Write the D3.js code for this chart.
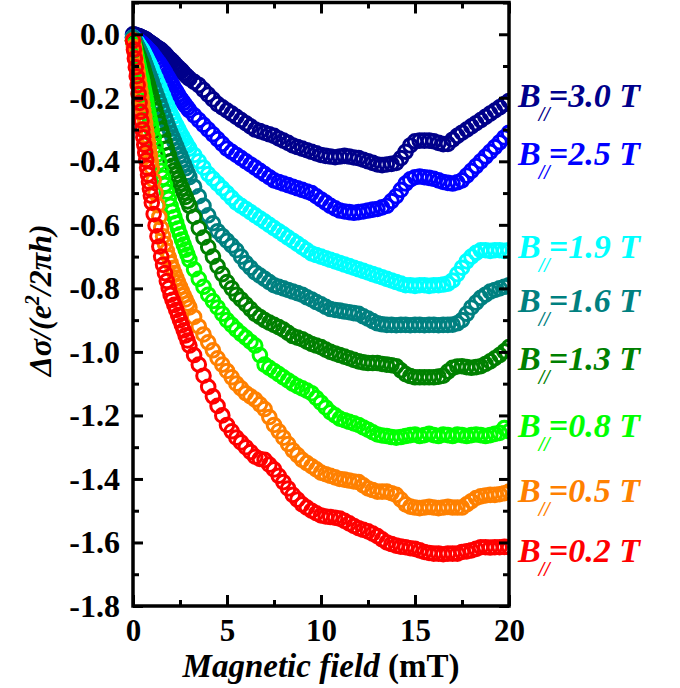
<!DOCTYPE html>
<html>
<head>
<meta charset="utf-8">
<script src="https://cdn.jsdelivr.net/npm/d3@7/dist/d3.min.js"></script>
<style>
  html, body { margin: 0; padding: 0; background: #fff; }
  svg { display: block; }
  text { font-family: "Times New Roman", "Liberation Serif", serif; font-weight: bold; }
</style>
</head>
<body>
<svg id="chart" width="680" height="688"></svg>
<script>
// Magnetic field sweep (mT): fine steps at low field, then 0.25 mT
const field = [
  0, 0.05, 0.1, 0.15, 0.2, 0.25, 0.3, 0.35, 0.4, 0.45, 0.5, 0.55, 0.6, 0.65, 0.7, 0.75, 0.8, 0.85, 0.9, 0.95, 1,
  1.1, 1.2, 1.3, 1.4, 1.5, 1.6, 1.7, 1.8, 1.9, 2, 2.1, 2.2, 2.3, 2.4, 2.5, 2.6, 2.7, 2.8, 2.9, 3,
  3.25, 3.5, 3.75, 4, 4.25, 4.5, 4.75, 5, 5.25, 5.5, 5.75, 6, 6.25, 6.5, 6.75, 7, 7.25, 7.5, 7.75,
  8, 8.25, 8.5, 8.75, 9, 9.25, 9.5, 9.75, 10, 10.25, 10.5, 10.75, 11, 11.25, 11.5, 11.75,
  12, 12.25, 12.5, 12.75, 13, 13.25, 13.5, 13.75, 14, 14.25, 14.5, 14.75, 15, 15.25, 15.5, 15.75,
  16, 16.25, 16.5, 16.75, 17, 17.25, 17.5, 17.75, 18, 18.25, 18.5, 18.75, 19, 19.25, 19.5, 19.75, 20
];

// Magnetoconductance, in units of e^2/(2 pi h), for each in-plane field
const dSigma30 = [
  0.000, -0.001, -0.002, -0.003, -0.005, -0.005, -0.006, -0.007, -0.008, -0.010, -0.011, -0.012, -0.014, -0.016, -0.017, -0.019, -0.022, -0.024, -0.026, -0.028, -0.030,
  -0.033, -0.038, -0.043, -0.046, -0.050, -0.056, -0.061, -0.068, -0.075, -0.080, -0.085, -0.092, -0.099, -0.104, -0.110, -0.115, -0.122, -0.129, -0.134, -0.140,
  -0.150, -0.160, -0.175, -0.190, -0.205, -0.220, -0.230, -0.240, -0.250, -0.260, -0.270, -0.280, -0.290, -0.300, -0.305, -0.310, -0.315, -0.320, -0.328,
  -0.335, -0.342, -0.350, -0.355, -0.360, -0.365, -0.370, -0.375, -0.380, -0.383, -0.385, -0.387, -0.385, -0.383, -0.385, -0.388,
  -0.390, -0.395, -0.400, -0.405, -0.410, -0.412, -0.410, -0.408, -0.405, -0.390, -0.370, -0.350, -0.337, -0.335, -0.335, -0.335,
  -0.337, -0.342, -0.346, -0.345, -0.332, -0.320, -0.310, -0.300, -0.290, -0.280, -0.270, -0.260, -0.250, -0.240, -0.230, -0.220, -0.210
];
const dSigma25 = [
  -0.010, -0.011, -0.013, -0.015, -0.017, -0.019, -0.021, -0.023, -0.026, -0.028, -0.030, -0.033, -0.036, -0.038, -0.041, -0.045, -0.048, -0.051, -0.054, -0.057, -0.060,
  -0.068, -0.076, -0.084, -0.092, -0.100, -0.110, -0.119, -0.130, -0.140, -0.150, -0.160, -0.171, -0.180, -0.190, -0.200, -0.208, -0.216, -0.225, -0.232, -0.240,
  -0.255, -0.270, -0.285, -0.300, -0.315, -0.330, -0.345, -0.360, -0.370, -0.380, -0.390, -0.400, -0.410, -0.420, -0.430, -0.440, -0.450, -0.460, -0.465,
  -0.470, -0.475, -0.480, -0.485, -0.490, -0.495, -0.500, -0.510, -0.520, -0.530, -0.540, -0.548, -0.555, -0.558, -0.560, -0.562,
  -0.560, -0.558, -0.555, -0.552, -0.550, -0.545, -0.540, -0.525, -0.510, -0.490, -0.470, -0.457, -0.450, -0.448, -0.450, -0.452,
  -0.455, -0.460, -0.465, -0.468, -0.470, -0.466, -0.460, -0.445, -0.430, -0.415, -0.400, -0.385, -0.370, -0.355, -0.340, -0.325, -0.310
];
const dSigma19 = [
  -0.010, -0.013, -0.017, -0.021, -0.025, -0.029, -0.033, -0.037, -0.042, -0.046, -0.050, -0.056, -0.061, -0.067, -0.073, -0.079, -0.085, -0.091, -0.097, -0.104, -0.110,
  -0.124, -0.138, -0.152, -0.166, -0.180, -0.194, -0.209, -0.222, -0.236, -0.250, -0.262, -0.275, -0.286, -0.298, -0.310, -0.320, -0.331, -0.340, -0.351, -0.360,
  -0.380, -0.400, -0.420, -0.440, -0.455, -0.470, -0.485, -0.500, -0.515, -0.530, -0.540, -0.550, -0.560, -0.570, -0.580, -0.590, -0.600, -0.610, -0.620,
  -0.630, -0.640, -0.650, -0.660, -0.670, -0.680, -0.690, -0.695, -0.700, -0.705, -0.710, -0.715, -0.720, -0.725, -0.730, -0.735,
  -0.740, -0.745, -0.750, -0.755, -0.760, -0.765, -0.770, -0.775, -0.780, -0.785, -0.790, -0.790, -0.792, -0.790, -0.790, -0.792,
  -0.790, -0.790, -0.788, -0.785, -0.775, -0.755, -0.735, -0.715, -0.700, -0.688, -0.680, -0.680, -0.682, -0.680, -0.680, -0.682, -0.680
];
const dSigma16 = [
  -0.010, -0.015, -0.021, -0.028, -0.034, -0.040, -0.046, -0.052, -0.058, -0.064, -0.070, -0.078, -0.086, -0.094, -0.102, -0.110, -0.118, -0.126, -0.134, -0.142, -0.150,
  -0.166, -0.182, -0.198, -0.214, -0.230, -0.246, -0.263, -0.278, -0.294, -0.310, -0.324, -0.338, -0.352, -0.366, -0.380, -0.394, -0.408, -0.422, -0.436, -0.450,
  -0.480, -0.510, -0.540, -0.570, -0.595, -0.620, -0.635, -0.650, -0.665, -0.680, -0.700, -0.720, -0.735, -0.750, -0.760, -0.770, -0.780, -0.790, -0.795,
  -0.800, -0.805, -0.810, -0.815, -0.820, -0.828, -0.835, -0.843, -0.850, -0.858, -0.865, -0.868, -0.870, -0.873, -0.875, -0.878,
  -0.880, -0.888, -0.895, -0.903, -0.910, -0.913, -0.915, -0.915, -0.916, -0.915, -0.915, -0.916, -0.915, -0.915, -0.916, -0.915,
  -0.915, -0.916, -0.915, -0.915, -0.914, -0.910, -0.900, -0.880, -0.860, -0.845, -0.830, -0.820, -0.810, -0.805, -0.800, -0.795, -0.790
];
const dSigma13 = [
  -0.020, -0.027, -0.035, -0.044, -0.052, -0.060, -0.068, -0.076, -0.084, -0.092, -0.100, -0.110, -0.120, -0.130, -0.140, -0.150, -0.160, -0.170, -0.180, -0.190, -0.200,
  -0.220, -0.240, -0.260, -0.280, -0.300, -0.320, -0.341, -0.360, -0.380, -0.400, -0.414, -0.428, -0.442, -0.456, -0.470, -0.484, -0.498, -0.512, -0.526, -0.540,
  -0.575, -0.610, -0.640, -0.670, -0.700, -0.730, -0.755, -0.780, -0.800, -0.820, -0.835, -0.850, -0.865, -0.880, -0.890, -0.900, -0.908, -0.915, -0.922,
  -0.930, -0.940, -0.950, -0.955, -0.960, -0.968, -0.975, -0.980, -0.985, -0.993, -1.000, -1.005, -1.010, -1.015, -1.020, -1.025,
  -1.030, -1.033, -1.035, -1.035, -1.035, -1.038, -1.040, -1.042, -1.045, -1.058, -1.070, -1.076, -1.080, -1.080, -1.080, -1.080,
  -1.080, -1.078, -1.075, -1.062, -1.050, -1.046, -1.045, -1.048, -1.050, -1.048, -1.045, -1.038, -1.030, -1.020, -1.010, -0.998, -0.985
];
const dSigma08 = [
  -0.020, -0.033, -0.046, -0.059, -0.072, -0.085, -0.098, -0.111, -0.124, -0.137, -0.150, -0.165, -0.180, -0.195, -0.210, -0.225, -0.240, -0.255, -0.270, -0.285, -0.300,
  -0.326, -0.352, -0.378, -0.404, -0.430, -0.452, -0.474, -0.496, -0.518, -0.540, -0.558, -0.576, -0.594, -0.612, -0.630, -0.646, -0.662, -0.678, -0.694, -0.710,
  -0.740, -0.770, -0.795, -0.820, -0.840, -0.860, -0.880, -0.900, -0.915, -0.930, -0.943, -0.955, -0.968, -0.980, -1.010, -1.040, -1.050, -1.060, -1.070,
  -1.080, -1.090, -1.100, -1.108, -1.115, -1.122, -1.130, -1.145, -1.160, -1.175, -1.190, -1.200, -1.210, -1.215, -1.220, -1.225,
  -1.230, -1.238, -1.245, -1.253, -1.260, -1.263, -1.265, -1.268, -1.270, -1.268, -1.265, -1.262, -1.260, -1.265, -1.262, -1.258,
  -1.262, -1.265, -1.260, -1.262, -1.265, -1.260, -1.262, -1.265, -1.262, -1.260, -1.262, -1.265, -1.262, -1.258, -1.255, -1.240, -1.250
];
const dSigma05 = [
  -0.020, -0.040, -0.060, -0.080, -0.100, -0.120, -0.140, -0.160, -0.180, -0.200, -0.220, -0.240, -0.260, -0.280, -0.300, -0.320, -0.340, -0.360, -0.380, -0.400, -0.420,
  -0.460, -0.500, -0.538, -0.575, -0.610, -0.636, -0.660, -0.682, -0.702, -0.720, -0.736, -0.752, -0.767, -0.781, -0.795, -0.809, -0.822, -0.835, -0.848, -0.860,
  -0.890, -0.920, -0.945, -0.970, -0.995, -1.020, -1.040, -1.060, -1.080, -1.100, -1.115, -1.130, -1.140, -1.150, -1.165, -1.180, -1.205, -1.230, -1.250,
  -1.270, -1.290, -1.310, -1.325, -1.340, -1.350, -1.360, -1.370, -1.380, -1.385, -1.390, -1.395, -1.400, -1.402, -1.405, -1.408,
  -1.410, -1.420, -1.430, -1.435, -1.440, -1.440, -1.440, -1.445, -1.450, -1.465, -1.480, -1.487, -1.490, -1.492, -1.490, -1.488,
  -1.490, -1.492, -1.490, -1.488, -1.490, -1.490, -1.490, -1.480, -1.470, -1.460, -1.455, -1.452, -1.450, -1.450, -1.448, -1.445, -1.440
];
const dSigma02 = [
  -0.020, -0.048, -0.076, -0.104, -0.132, -0.160, -0.188, -0.216, -0.244, -0.272, -0.300, -0.324, -0.348, -0.372, -0.396, -0.420, -0.442, -0.464, -0.486, -0.508, -0.530,
  -0.566, -0.602, -0.636, -0.668, -0.700, -0.726, -0.752, -0.777, -0.799, -0.820, -0.836, -0.852, -0.868, -0.884, -0.900, -0.916, -0.932, -0.948, -0.964, -0.980,
  -1.010, -1.040, -1.075, -1.110, -1.140, -1.170, -1.200, -1.230, -1.250, -1.270, -1.285, -1.300, -1.315, -1.330, -1.337, -1.340, -1.355, -1.370, -1.390,
  -1.410, -1.430, -1.450, -1.465, -1.480, -1.490, -1.500, -1.508, -1.515, -1.518, -1.520, -1.522, -1.525, -1.532, -1.540, -1.548,
  -1.555, -1.560, -1.565, -1.572, -1.580, -1.590, -1.600, -1.605, -1.610, -1.613, -1.615, -1.618, -1.620, -1.625, -1.630, -1.633,
  -1.635, -1.635, -1.637, -1.635, -1.635, -1.635, -1.630, -1.628, -1.625, -1.620, -1.615, -1.615, -1.616, -1.615, -1.615, -1.614, -1.615
];

// In-plane field labels and series order (top to bottom)
const inPlaneField = ["3.0", "2.5", "1.9", "1.6", "1.3", "0.8", "0.5", "0.2"];
const seriesValues = [dSigma30, dSigma25, dSigma19, dSigma16, dSigma13, dSigma08, dSigma05, dSigma02];

// Axis ticks
const fieldTicks = [0, 5, 10, 15, 20];
const fieldMinorTicks = [2.5, 7.5, 12.5, 17.5];
const sigmaTicks = [0.0, -0.2, -0.4, -0.6, -0.8, -1.0, -1.2, -1.4, -1.6, -1.8];
const sigmaMinorTicks = [0.1, -0.1, -0.3, -0.5, -0.7, -0.9, -1.1, -1.3, -1.5, -1.7];

// ---- layout and styling ----
const colors = ["#00008b", "#0000ff", "#00ffff", "#008080", "#008000", "#00ff00", "#ff8000", "#ff0000"];
const labelLevels = [-0.23, -0.412, -0.705, -0.875, -1.057, -1.268, -1.473, -1.661];
const serif = "'Times New Roman', 'Liberation Serif', serif";

const svg = d3.select("#chart");
const plotLeft = 133, plotRight = 509, plotTop = 2.5, plotBottom = 606;

const x = d3.scaleLinear().domain([0, 20]).range([plotLeft, plotRight]);
const y = d3.scaleLinear().domain([-1.8, 0.1]).range([plotBottom, plotTop]);

svg.append("defs").append("clipPath").attr("id", "plot-clip")
  .append("rect").attr("x", plotLeft - 10).attr("y", plotTop)
  .attr("width", plotRight - plotLeft + 10).attr("height", plotBottom - plotTop);

// data: open circles
const plot = svg.append("g").attr("clip-path", "url(#plot-clip)");
seriesValues.forEach((vals, k) => {
  plot.append("g")
    .selectAll("circle")
    .data(vals.map((v, i) => [field[i], v]))
    .join("circle")
    .attr("cx", d => x(d[0]))
    .attr("cy", d => y(d[1]))
    .attr("r", 6.8)
    .attr("fill", "none")
    .attr("stroke", colors[k])
    .attr("stroke-width", 3);
});

// axes: ticks point inward on all four sides
function styleAxis(g, size) {
  g.attr("font-family", serif);
  g.select(".domain").remove();
  g.selectAll(".tick line").attr("stroke", "#000").attr("stroke-width", 3);
  g.selectAll(".tick text")
    .attr("fill", "#000")
    .style("font-family", serif)
    .style("font-weight", "bold")
    .style("font-size", (size || 30) + "px");
}

svg.append("g").attr("transform", `translate(0,${plotBottom})`)
  .call(d3.axisBottom(x).tickValues(fieldTicks).tickFormat(d3.format("d"))
    .tickSizeInner(-11).tickSizeOuter(0).tickPadding(13))
  .call(styleAxis, 31);
svg.append("g").attr("transform", `translate(0,${plotBottom})`)
  .call(d3.axisBottom(x).tickValues(fieldMinorTicks).tickFormat("").tickSizeInner(-6).tickSizeOuter(0))
  .call(styleAxis);
svg.append("g").attr("transform", `translate(0,${plotTop})`)
  .call(d3.axisTop(x).tickValues(fieldTicks).tickFormat("").tickSizeInner(-11).tickSizeOuter(0))
  .call(styleAxis);
svg.append("g").attr("transform", `translate(0,${plotTop})`)
  .call(d3.axisTop(x).tickValues(fieldMinorTicks).tickFormat("").tickSizeInner(-6).tickSizeOuter(0))
  .call(styleAxis);

svg.append("g").attr("transform", `translate(${plotLeft},0)`)
  .call(d3.axisLeft(y).tickValues(sigmaTicks).tickFormat(d => d3.format(".1f")(d).replace("−", "-"))
    .tickSizeInner(-10).tickSizeOuter(0).tickPadding(13))
  .call(styleAxis, 32);
svg.append("g").attr("transform", `translate(${plotLeft},0)`)
  .call(d3.axisLeft(y).tickValues(sigmaMinorTicks).tickFormat("").tickSizeInner(-6).tickSizeOuter(0))
  .call(styleAxis);
svg.append("g").attr("transform", `translate(${plotRight},0)`)
  .call(d3.axisRight(y).tickValues(sigmaTicks).tickFormat("").tickSizeInner(-10).tickSizeOuter(0))
  .call(styleAxis);
svg.append("g").attr("transform", `translate(${plotRight},0)`)
  .call(d3.axisRight(y).tickValues(sigmaMinorTicks).tickFormat("").tickSizeInner(-6).tickSizeOuter(0))
  .call(styleAxis);

// frame
svg.append("rect")
  .attr("x", plotLeft).attr("y", plotTop)
  .attr("width", plotRight - plotLeft).attr("height", plotBottom - plotTop)
  .attr("fill", "none").attr("stroke", "#000").attr("stroke-width", 3.5);

// x-axis title
const xTitle = svg.append("text")
  .attr("x", (plotLeft + plotRight) / 2).attr("y", 677)
  .attr("text-anchor", "middle")
  .style("font-size", "33px");
xTitle.append("tspan").style("font-style", "italic").text("Magnetic field");
xTitle.append("tspan").text(" (mT)");

// y-axis title
const yTitle = svg.append("text")
  .attr("transform", `translate(51,${(plotTop + plotBottom) / 2 - 4}) rotate(-90)`)
  .attr("text-anchor", "middle")
  .style("font-size", "32px")
  .style("font-style", "italic");
yTitle.append("tspan").text("Δσ/(e");
yTitle.append("tspan").attr("dy", -12).style("font-size", "20px").text("2");
yTitle.append("tspan").attr("dy", 12).text("/2πh)");

// series labels at the right
inPlaneField.forEach((b, k) => {
  const t = svg.append("text")
    .attr("x", 518).attr("y", y(labelLevels[k]))
    .attr("fill", colors[k])
    .style("font-size", "34px")
    .style("font-style", "italic");
  t.append("tspan").text("B");
  t.append("tspan").attr("dx", -2).attr("dy", 14).style("font-size", "20px").text("//");
  t.append("tspan").attr("dx", -1).attr("dy", -14).text(`=${b} T`);
});
</script>
</body>
</html>
